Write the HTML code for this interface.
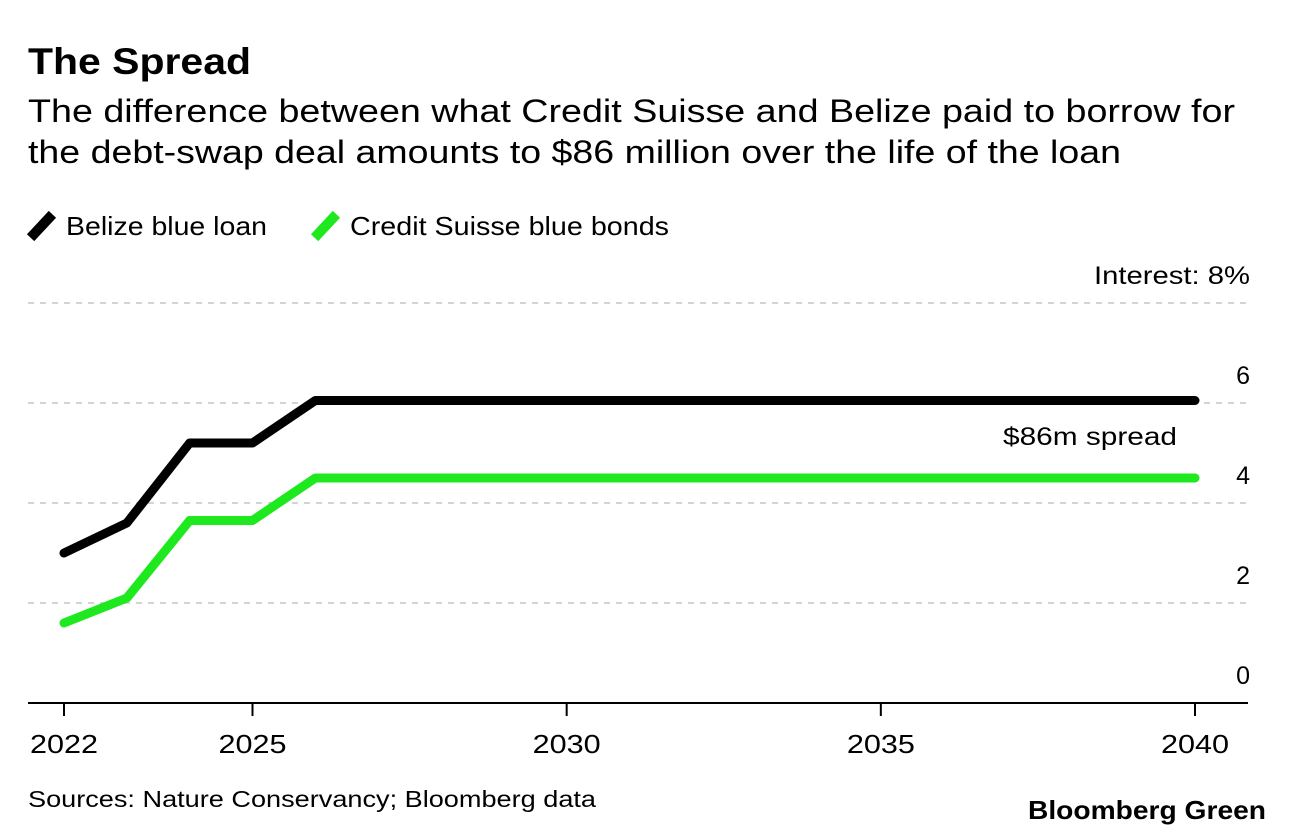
<!DOCTYPE html>
<html><head><meta charset="utf-8">
<style>
body{margin:0;background:#fff;font-family:"Liberation Sans",Arial,sans-serif;}
svg{display:block}
</style></head>
<body>
<svg id="chart" width="1296" height="838">
<text x="28" y="74" font-size="37" font-weight="bold" fill="#000" textLength="223" lengthAdjust="spacingAndGlyphs">The Spread</text>
<text x="28" y="122" font-size="32" fill="#000" textLength="1207" lengthAdjust="spacingAndGlyphs">The difference between what Credit Suisse and Belize paid to borrow for</text>
<text x="28" y="163" font-size="32" fill="#000" textLength="1093" lengthAdjust="spacingAndGlyphs">the debt-swap deal amounts to $86 million over the life of the loan</text>
<g>
<line x1="34" y1="234" x2="49" y2="218" stroke="#000" stroke-width="10" stroke-linecap="square"/>
<text x="66" y="235" font-size="26" textLength="201" lengthAdjust="spacingAndGlyphs">Belize blue loan</text>
<line x1="318" y1="234" x2="333" y2="218" stroke="#1ee81e" stroke-width="10" stroke-linecap="square"/>
<text x="350" y="235" font-size="26" textLength="319" lengthAdjust="spacingAndGlyphs">Credit Suisse blue bonds</text>
</g>
<g id="grid"></g>
<g id="series"></g>
<text x="1003" y="445" font-size="25" textLength="174" lengthAdjust="spacingAndGlyphs">$86m spread</text>
<text x="28" y="807" font-size="23" textLength="568" lengthAdjust="spacingAndGlyphs">Sources: Nature Conservancy; Bloomberg data</text>
<text x="1028" y="819" font-size="26" font-weight="bold" textLength="238" lengthAdjust="spacingAndGlyphs">Bloomberg Green</text>
</svg>
<script>
const years=[2022,2023,2024,2025,2026,2040];
const belize=[3.0,3.6,5.2,5.2,6.05,6.05];
const creditSuisse=[1.6,2.1,3.65,3.65,4.5,4.5];
const yTicks=[0,2,4,6,8];
const xTicks=[2022,2025,2030,2035,2040];
const NS="http://www.w3.org/2000/svg";
function xs(v){return 64+(v-2022)*(1195-64)/18;}
function ys(v){return 703-v*50;}
const grid=document.getElementById('grid');
yTicks.forEach(t=>{
 const y=ys(t);
 if(t>0){
  const l=document.createElementNS(NS,'line');
  l.setAttribute('x1',28);l.setAttribute('x2',1248);l.setAttribute('y1',y);l.setAttribute('y2',y);
  l.setAttribute('stroke','#d4d4d4');l.setAttribute('stroke-width',2);l.setAttribute('stroke-dasharray','6,6');
  
  
  grid.appendChild(l);
 }
 const tx=document.createElementNS(NS,'text');
 tx.setAttribute('x',1250);tx.setAttribute('y',y-19);tx.setAttribute('font-size',25);tx.setAttribute('text-anchor','end');
 tx.textContent=t===8?'Interest: 8%':String(t);
 if(t===8){tx.setAttribute('textLength',156);tx.setAttribute('lengthAdjust','spacingAndGlyphs');}
 
 
 grid.appendChild(tx);
});
const ax=document.createElementNS(NS,'line');
ax.setAttribute('x1',28);ax.setAttribute('x2',1248);ax.setAttribute('y1',703);ax.setAttribute('y2',703);
ax.setAttribute('stroke','#000');ax.setAttribute('stroke-width',2);


grid.appendChild(ax);
xTicks.forEach(t=>{
 const x=xs(t);
 const l=document.createElementNS(NS,'line');
 l.setAttribute('x1',x);l.setAttribute('x2',x);l.setAttribute('y1',703);l.setAttribute('y2',716);
 l.setAttribute('stroke','#000');l.setAttribute('stroke-width',2);
 
 
 grid.appendChild(l);
 const tx=document.createElementNS(NS,'text');
 tx.setAttribute('x',x-34);tx.setAttribute('y',753);tx.setAttribute('font-size',26);
 tx.setAttribute('textLength',68);tx.setAttribute('lengthAdjust','spacingAndGlyphs');
 tx.textContent=t;
 
 
 grid.appendChild(tx);
});
const series=document.getElementById('series');
function drawLine(vals,color,name){
 const p=document.createElementNS(NS,'polyline');
 p.setAttribute('points',years.map((y,i)=>xs(y)+','+ys(vals[i])).join(' '));
 p.setAttribute('fill','none');p.setAttribute('stroke',color);p.setAttribute('stroke-width',9);
 p.setAttribute('stroke-linecap','round');p.setAttribute('stroke-linejoin','round');
 
 
 series.appendChild(p);
}
drawLine(creditSuisse,'#1ee81e','credit-suisse-line');
drawLine(belize,'#000','belize-line');
</script>
</body></html>
